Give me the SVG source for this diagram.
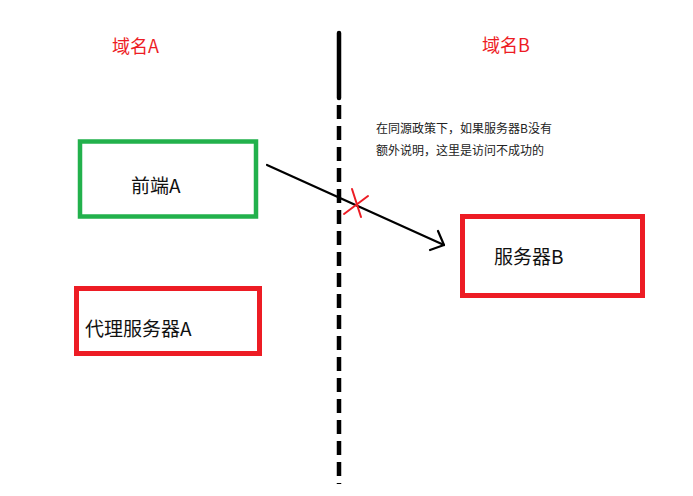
<svg xmlns="http://www.w3.org/2000/svg" width="693" height="496" viewBox="0 0 693 496">
<style>
.t{font-family:"Microsoft YaHei","Noto Sans CJK SC",sans-serif;}
.lbl{font-size:19px;fill:#111;}
.dom{font-size:18px;fill:#ed1c24;}
.note{font-size:12px;fill:#222;}
.red{fill:none;stroke:#ed1c24;stroke-width:5;}
.grn{fill:none;stroke:#22b14c;stroke-width:4.5;}
</style>
<rect width="693" height="496" fill="#fff"/>
<g id="divider">
<line x1="339" y1="33" x2="339" y2="98" stroke="#000" stroke-width="4.5" stroke-linecap="round"/>
<line x1="339" y1="105" x2="339" y2="484" stroke="#000" stroke-width="4.5" stroke-dasharray="14 7"/>
</g>
<g id="domainA"><text class="t dom" x="112" y="53">域名A</text></g>
<g id="domainB"><text class="t dom" x="482" y="52">域名B</text></g>
<g id="note">
<text class="t note" x="376" y="133">在同源政策下，如果服务器B没有</text>
<text class="t note" x="376" y="155">额外说明，这里是访问不成功的</text>
</g>
<g id="frontendA">
<rect class="grn" x="80" y="141.5" width="176" height="75"/>
<text class="t lbl" x="131" y="193">前端A</text>
</g>
<g id="proxyA">
<rect class="red" x="76.5" y="288.5" width="183" height="65"/>
<text class="t lbl" x="85" y="336">代理服务器A</text>
</g>
<g id="serverB">
<rect class="red" x="462.5" y="216.5" width="180" height="79"/>
<text class="t lbl" x="494" y="264">服务器B</text>
</g>
<g id="connectors" fill="none" stroke-linecap="round" stroke-linejoin="round">
<path d="M267 165 L444 245" stroke="#000" stroke-width="2.2"/>
<path d="M438 231 L444 245 L430 250" stroke="#000" stroke-width="2.2"/>
<path d="M352 189 L361 217 M344 214 L368 196" stroke="#ed1c24" stroke-width="2"/>
</g>
</svg>
